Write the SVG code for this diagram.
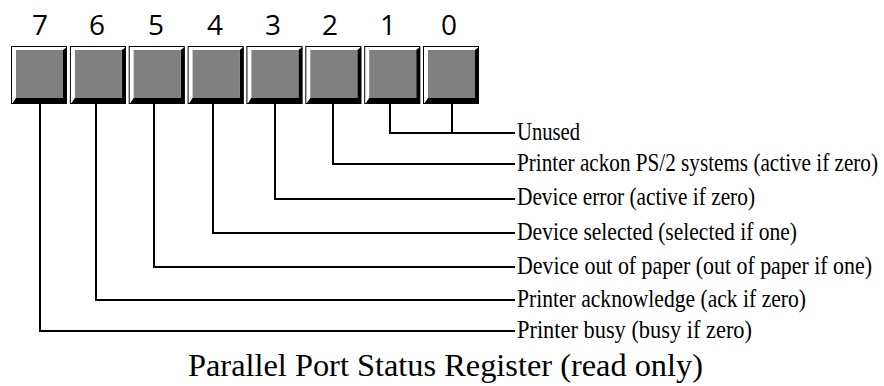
<svg xmlns="http://www.w3.org/2000/svg" width="884" height="386" viewBox="0 0 884 386">
<style>
.digit{font-family:"Open Sans","DejaVu Sans",sans-serif;font-size:28px;fill:#000;text-anchor:middle}
.lbl{font-family:"Liberation Serif","Times New Roman",serif;font-size:20px;fill:#000}
.title{font-family:"Liberation Serif","Times New Roman",serif;font-size:32px;fill:#000}
.wire{fill:none;stroke:#000;stroke-width:2}
</style>
<defs>
<g id="cell">
<rect x="0.5" y="0.5" width="55" height="57" fill="#fff" stroke="#000" stroke-width="1"/>
<polygon points="56,1 56,58 1,58 5,52 52,52 52,4" fill="#000"/>
<rect x="5" y="4" width="47" height="48" fill="#808080"/>
</g>
</defs>
<rect width="884" height="386" fill="#fff"/>
<g id="bit7"><use href="#cell" transform="translate(11,46)"/><text class="digit" x="40" y="35">7</text></g>
<g id="bit6"><use href="#cell" transform="translate(69.9,46)"/><text class="digit" x="97" y="35">6</text></g>
<g id="bit5"><use href="#cell" transform="translate(128.7,46)"/><text class="digit" x="156" y="35">5</text></g>
<g id="bit4"><use href="#cell" transform="translate(187.6,46)"/><text class="digit" x="215" y="35">4</text></g>
<g id="bit3"><use href="#cell" transform="translate(246.4,46)"/><text class="digit" x="273" y="35">3</text></g>
<g id="bit2"><use href="#cell" transform="translate(305.3,46)"/><text class="digit" x="330" y="35">2</text></g>
<g id="bit1"><use href="#cell" transform="translate(364.2,46)"/><text class="digit" x="388" y="35">1</text></g>
<g id="bit0"><use href="#cell" transform="translate(423,46)"/><text class="digit" x="449" y="35">0</text></g>
<g id="connectors">
<polyline class="wire" points="390,104 390,133 515,133"/>
<polyline class="wire" points="452,104 452,133"/>
<polyline class="wire" points="333,104 333,164 515,164"/>
<polyline class="wire" points="275,104 275,199 515,199"/>
<polyline class="wire" points="213,104 213,233 515,233"/>
<polyline class="wire" points="154,104 154,267 515,267"/>
<polyline class="wire" points="96,104 96,300 515,300"/>
<polyline class="wire" points="40,104 40,331 515,331"/>
</g>
<g id="labels">
<text class="lbl" transform="translate(517,140) scale(1,1.3)" textLength="63" lengthAdjust="spacingAndGlyphs">Unused</text>
<text class="lbl" transform="translate(517,171) scale(1,1.3)" textLength="361" lengthAdjust="spacingAndGlyphs">Printer ackon PS/2 systems (active if zero)</text>
<text class="lbl" transform="translate(517,205) scale(1,1.3)" textLength="238" lengthAdjust="spacingAndGlyphs">Device error (active if zero)</text>
<text class="lbl" transform="translate(517,240) scale(1,1.3)" textLength="280" lengthAdjust="spacingAndGlyphs">Device selected (selected if one)</text>
<text class="lbl" transform="translate(517,274) scale(1,1.3)" textLength="355" lengthAdjust="spacingAndGlyphs">Device out of paper (out of paper if one)</text>
<text class="lbl" transform="translate(517,307) scale(1,1.3)" textLength="289" lengthAdjust="spacingAndGlyphs">Printer acknowledge (ack if zero)</text>
<text class="lbl" transform="translate(517,338) scale(1,1.3)" textLength="235" lengthAdjust="spacingAndGlyphs">Printer busy (busy if zero)</text>
</g>
<text class="title" x="188" y="376" textLength="515" lengthAdjust="spacingAndGlyphs">Parallel Port Status Register (read only)</text>
</svg>
